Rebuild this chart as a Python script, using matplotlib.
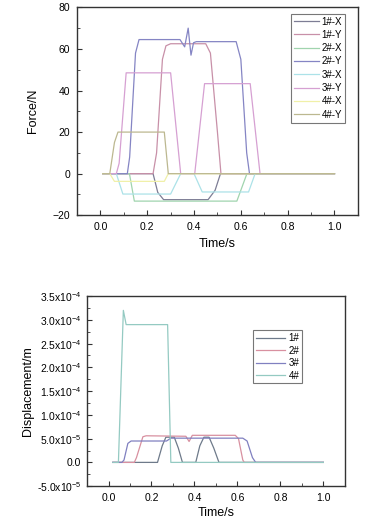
import matplotlib
matplotlib.use("Agg")
import matplotlib.pyplot as plt
from matplotlib.ticker import MultipleLocator, FixedLocator, FixedFormatter

plt.rcParams['font.family'] = ['Liberation Sans', 'DejaVu Sans']
plt.rcParams['mathtext.default'] = 'regular'

# ---------------- Force data ----------------
t_1x = [0.01, 0.225, 0.245, 0.27, 0.46, 0.49, 0.513, 1.0]
f_1x = [0, 0, -9, -12.5, -12.5, -8, 0, 0]

t_1y = [0.01, 0.225, 0.24, 0.265, 0.28, 0.30, 0.45, 0.47, 0.50, 0.515, 1.0]
f_1y = [0, 0, 10, 55, 61.5, 62.5, 62.5, 58, 20, 0, 0]

t_2x = [0.01, 0.124, 0.145, 0.583, 0.626, 1.0]
f_2x = [0, 0, -13.2, -13.2, 0, 0]

t_2y = [0.01, 0.115, 0.125, 0.15, 0.165, 0.34, 0.36, 0.375, 0.387, 0.398, 0.41,
        0.58, 0.60, 0.625, 0.637, 1.0]
f_2y = [0, 0, 8, 58, 64.5, 64.5, 61, 70, 57, 63, 63.5,
        63.5, 55, 10, 0, 0]

t_3x = [0.01, 0.068, 0.096, 0.30, 0.343, 0.40, 0.435, 0.633, 0.661, 1.0]
f_3x = [0, 0, -9.8, -9.8, 0, 0, -8.8, -8.8, 0, 0]

t_3y = [0.01, 0.068, 0.08, 0.11, 0.30, 0.343, 0.403, 0.445, 0.64, 0.682, 1.0]
f_3y = [0, 0, 5, 48.5, 48.5, 0, 0, 43.3, 43.3, 0, 0]

t_4x = [0.01, 0.04, 0.06, 0.273, 0.29, 1.0]
f_4x = [0, 0, -3.7, -3.7, 0, 0]

t_4y = [0.01, 0.04, 0.06, 0.075, 0.273, 0.29, 1.0]
f_4y = [0, 0, 15, 20, 20, 0, 0]

force_labels = ['1#-X', '1#-Y', '2#-X', '2#-Y', '3#-X', '3#-Y', '4#-X', '4#-Y']
force_colors = ['#7d7d95', '#c890a8', '#a0d4ae', '#8585c4',
                '#ace2e8', '#d6a0d2', '#f0f0a8', '#bcb890']

# ---------------- Displacement data ----------------
t_d1 = [0.02, 0.228, 0.25, 0.267, 0.306, 0.325, 0.344, 0.406, 0.425, 0.444, 0.468,
        0.49, 0.514, 1.0]
d_1 = [0, 0, 3.5e-5, 5.3e-5, 5.3e-5, 3.0e-5, 0, 0, 3.5e-5, 5.3e-5, 5.3e-5,
       3.0e-5, 0, 0]

t_d2 = [0.02, 0.12, 0.13, 0.16, 0.175, 0.36, 0.375, 0.39, 0.59, 0.605, 0.625, 0.632, 1.0]
d_2 = [0, 0, 1e-5, 5.4e-5, 5.6e-5, 5.5e-5, 4.4e-5, 5.7e-5, 5.7e-5, 5.0e-5, 5e-6, 0, 0]

t_d3 = [0.02, 0.062, 0.072, 0.09, 0.105, 0.27, 0.29, 0.625, 0.645, 0.67, 0.685, 1.0]
d_3 = [0, 0, 5e-6, 4.0e-5, 4.5e-5, 4.5e-5, 5.1e-5, 5.1e-5, 4.5e-5, 1e-5, 0, 0]

t_d4 = [0.02, 0.046, 0.069, 0.082, 0.275, 0.29, 1.0]
d_4 = [0, 0, 3.2e-4, 2.9e-4, 2.9e-4, 0, 0]

disp_labels = ['1#', '2#', '3#', '4#']
disp_colors = ['#6e7a8a', '#d890a0', '#8080c0', '#94cac2']

disp_ticks = [-5e-5, 0, 5e-5, 1e-4, 1.5e-4, 2e-4, 2.5e-4, 3e-4, 3.5e-4]
disp_ticklabels = ['-5.0x10$^{-5}$', '0.0', '5.0x10$^{-5}$', '1.0x10$^{-4}$',
                   '1.5x10$^{-4}$', '2.0x10$^{-4}$', '2.5x10$^{-4}$',
                   '3.0x10$^{-4}$', '3.5x10$^{-4}$']

fig = plt.figure(figsize=(3.72, 5.25), dpi=100)

def style(ax):
    for s in ax.spines.values():
        s.set_linewidth(1.0)
        s.set_color('#333333')
    ax.tick_params(which='both', direction='in', top=False, right=False,
                   labelsize=7.5, color='#333333', pad=5)
    ax.tick_params(which='major', length=3.5)
    ax.tick_params(which='minor', length=2)
    ax.set_xlim(-0.1, 1.1)
    ax.xaxis.set_major_locator(MultipleLocator(0.2))
    ax.xaxis.set_minor_locator(MultipleLocator(0.1))

# Top axes
ax1 = fig.add_axes([0.207, 0.590, 0.755, 0.396])
force_t = [t_1x, t_1y, t_2x, t_2y, t_3x, t_3y, t_4x, t_4y]
force_v = [f_1x, f_1y, f_2x, f_2y, f_3x, f_3y, f_4x, f_4y]
for t, v, lab, c in zip(force_t, force_v, force_labels, force_colors):
    ax1.plot(t, v, color=c, lw=0.9, label=lab)
style(ax1)
ax1.set_ylim(-20, 80)
ax1.yaxis.set_major_locator(MultipleLocator(20))
ax1.yaxis.set_minor_locator(MultipleLocator(10))
ax1.set_xlabel('Time/s', fontsize=9, labelpad=4)
ax1.set_ylabel('Force/N', fontsize=9, labelpad=10)
leg1 = ax1.legend(loc='upper right', bbox_to_anchor=(0.955, 0.97), fontsize=7,
                  frameon=True, fancybox=False, edgecolor='#555555',
                  handlelength=2.6, handletextpad=0.3, labelspacing=0.34,
                  borderpad=0.3, borderaxespad=0)
leg1.get_frame().set_linewidth(0.8)

# Bottom axes
ax2 = fig.add_axes([0.234, 0.074, 0.693, 0.362])
disp_t = [t_d1, t_d2, t_d3, t_d4]
disp_v = [d_1, d_2, d_3, d_4]
for t, v, lab, c in zip(disp_t, disp_v, disp_labels, disp_colors):
    ax2.plot(t, v, color=c, lw=0.9, label=lab)
style(ax2)
ax2.tick_params(axis='y', pad=4)
ax2.set_ylim(-5e-5, 3.5e-4)
ax2.yaxis.set_major_locator(FixedLocator(disp_ticks))
ax2.yaxis.set_major_formatter(FixedFormatter(disp_ticklabels))
ax2.yaxis.set_minor_locator(MultipleLocator(2.5e-5))
ax2.set_xlabel('Time/s', fontsize=9, labelpad=3)
ax2.set_ylabel('Displacement/m', fontsize=9, labelpad=2)
leg2 = ax2.legend(loc='upper right', bbox_to_anchor=(0.835, 0.82), fontsize=7,
                  frameon=True, fancybox=False, edgecolor='#555555',
                  handlelength=3.0, handletextpad=0.4, labelspacing=0.25,
                  borderpad=0.3, borderaxespad=0)
leg2.get_frame().set_linewidth(0.8)

fig.savefig('out.png', dpi=100, facecolor='white')
